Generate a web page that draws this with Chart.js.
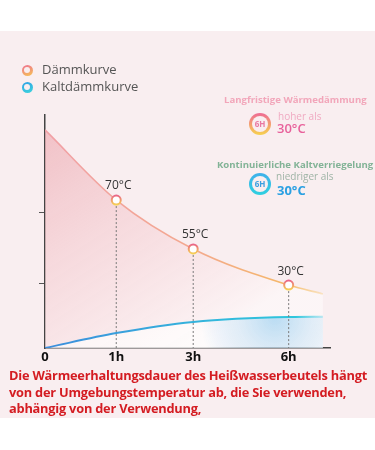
<!DOCTYPE html>
<html><head><meta charset="utf-8">
<script src="https://cdn.jsdelivr.net/npm/chart.js@4.4.1/dist/chart.umd.min.js"></script>
<style>
html,body{margin:0;padding:0;width:375px;height:450px;background:#fff;overflow:hidden;font-family:"Open Sans","Noto Sans",sans-serif;}
#bg{position:absolute;left:0;top:31px;width:375px;height:387px;background:#f9eef0;}
#c{position:absolute;left:0;top:0;}
.t{position:absolute;white-space:nowrap;line-height:1;}
.ring{position:absolute;border-radius:50%;}
.ring .in{position:absolute;border-radius:50%;background:#f9eef0;}
.foot{position:absolute;left:9px;top:367px;color:#d41c22;font-weight:bold;font-size:12.8px;line-height:16.5px;white-space:nowrap;}
</style></head>
<body>
<div id="bg"></div>
<canvas id="c" width="375" height="450"></canvas>

<div class="ring" style="left:21.5px;top:64.5px;width:11px;height:11px;background:linear-gradient(160deg,#ee6f93,#f6c453);"><div class="in" style="left:2.2px;top:2.2px;width:6.6px;height:6.6px;"></div></div>
<div class="t" style="left:42px;top:63px;font-size:13px;color:#555;">Dämmkurve</div>
<div class="ring" style="left:21.5px;top:81.5px;width:11px;height:11px;background:linear-gradient(160deg,#2d9fe6,#3fd6dc);"><div class="in" style="left:2.2px;top:2.2px;width:6.6px;height:6.6px;"></div></div>
<div class="t" style="left:42px;top:80px;font-size:13px;color:#555;">Kaltdämmkurve</div>

<div class="t" id="a1" style="left:224px;top:95px;font-size:9.6px;font-weight:bold;color:#f2a6ba;">Langfristige Wärmedämmung</div>
<div class="ring" style="left:249px;top:113px;width:22px;height:22px;background:linear-gradient(180deg,#ee6a94,#f7d24e);"><div class="in" style="left:3px;top:3px;width:16px;height:16px;"></div></div>
<div class="t" style="left:249px;top:120px;width:22px;text-align:center;font-size:8px;font-weight:bold;color:#e978a2;">6H</div>
<div class="t" style="left:278px;top:111px;font-size:10px;color:#f0aac2;">hoher als</div>
<div class="t" style="left:277px;top:122px;font-size:13px;font-weight:600;color:#e8619b;">30°C</div>

<div class="t" id="a2" style="left:217px;top:160px;font-size:9.6px;font-weight:bold;color:#82b396;">Kontinuierliche Kaltverriegelung</div>
<div class="ring" style="left:249px;top:173px;width:22px;height:22px;background:linear-gradient(180deg,#3fb0ea,#2fd0e0);"><div class="in" style="left:3px;top:3px;width:16px;height:16px;"></div></div>
<div class="t" style="left:249px;top:180px;width:22px;text-align:center;font-size:8px;font-weight:bold;color:#3b9fe0;">6H</div>
<div class="t" style="left:276px;top:171px;font-size:10px;color:#9fb4a6;">niedriger als</div>
<div class="t" style="left:277px;top:184px;font-size:13px;font-weight:bold;color:#2ba0e2;">30°C</div>

<div class="foot" id="foot">
<div class="fl">Die Wärmeerhaltungsdauer des Heißwasserbeutels hängt</div>
<div class="fl">von der Umgebungstemperatur ab, die Sie verwenden,</div>
<div class="fl">abhängig von der Verwendung,</div>
</div>

<script>
// ---- data ----
const timeLabels = ['0', '1h', '3h', '6h'];
const timeSlots = [0, 1, 2.08, 3.42];          // axis slot of each time label
const curveSlots = [0, 1, 2.08, 3.42, 3.9];    // curve sample slots
const heatCurve = [93.6, 63.5, 42.5, 27.0, 23.2];   // Dämmkurve
const coldCurve = [0, 6.4, 11.2, 13.3, 13.4];       // Kaltdämmkurve
const pointLabels = ['', '70°C', '55°C', '30°C', ''];
const yTicks = [27.5, 58];

// fit footer line 1 width
(function(){
  const fl = document.querySelectorAll('.fl');
  const w = fl[0].getBoundingClientRect().width;
  const target = 358;
  const ls = (target - w) / fl[0].textContent.length;
  document.getElementById('foot').style.letterSpacing = ls + 'px';
})();

const markerPlugin = {
  id: 'markers',
  afterDatasetsDraw(chart) {
    const c = chart.ctx;
    const meta = chart.getDatasetMeta(1);
    const bottom = chart.chartArea.bottom;
    meta.data.forEach((el, i) => {
      const lab = pointLabels[i];
      if (!lab) return;
      c.save();
      c.strokeStyle = '#7a7a7a'; c.lineWidth = 1; c.setLineDash([2, 2]);
      c.beginPath(); c.moveTo(el.x, el.y + 6); c.lineTo(el.x, bottom); c.stroke();
      c.setLineDash([]);
      const g = c.createLinearGradient(el.x, el.y - 5, el.x, el.y + 5);
      g.addColorStop(0, '#e9628a'); g.addColorStop(1, '#f6d452');
      c.fillStyle = '#fff';
      c.beginPath(); c.arc(el.x, el.y, 4.5, 0, Math.PI * 2); c.fill();
      c.strokeStyle = g; c.lineWidth = 2; c.stroke();
      c.fillStyle = '#333'; c.font = '12px "Open Sans"';
      c.textAlign = 'center'; c.textBaseline = 'middle';
      c.fillText(lab, el.x + 2, el.y - 14);
      c.restore();
    });
  }
};

function pinkLine(ctx) {
  const a = ctx.chart.chartArea; if (!a) return '#f0a0a0';
  const g = ctx.chart.ctx.createLinearGradient(a.left, 0, a.right, 0);
  g.addColorStop(0, '#f1a0a6'); g.addColorStop(0.5, '#f3a890');
  g.addColorStop(0.85, '#f5b868'); g.addColorStop(1, 'rgba(248,210,130,0.3)');
  return g;
}
function pinkFill(ctx) {
  const a = ctx.chart.chartArea; if (!a) return 'rgba(240,170,175,0.4)';
  const g = ctx.chart.ctx.createLinearGradient(a.left, a.top, a.left + 150, a.bottom);
  g.addColorStop(0, 'rgba(236,160,168,0.62)');
  g.addColorStop(0.45, 'rgba(242,190,196,0.45)');
  g.addColorStop(1, 'rgba(255,252,252,0.5)');
  return g;
}
function blueLine(ctx) {
  const a = ctx.chart.chartArea; if (!a) return '#3a90e0';
  const g = ctx.chart.ctx.createLinearGradient(a.left, 0, a.right, 0);
  g.addColorStop(0, '#3d8ddc'); g.addColorStop(0.6, '#33b8dc');
  g.addColorStop(0.88, '#2fc6dc'); g.addColorStop(1, 'rgba(80,210,230,0.2)');
  return g;
}
function blueFill(ctx) {
  const a = ctx.chart.chartArea; if (!a) return 'rgba(120,200,240,0.3)';
  const g = ctx.chart.ctx.createRadialGradient(a.left + 230, a.bottom - 30, 0, a.left + 230, a.bottom - 30, 75);
  g.addColorStop(0, 'rgba(120,195,240,0.5)');
  g.addColorStop(0.5, 'rgba(190,225,248,0.45)');
  g.addColorStop(1, 'rgba(255,255,255,0.6)');
  return g;
}

new Chart(document.getElementById('c'), {
  type: 'line',
  data: {
    datasets: [
      { label: 'Kaltdämmkurve', data: curveSlots.map((x, i) => ({ x, y: coldCurve[i] })),
        borderColor: blueLine, borderWidth: 2, fill: 'origin', backgroundColor: blueFill,
        pointRadius: 0, cubicInterpolationMode: 'monotone' },
      { label: 'Dämmkurve', data: curveSlots.map((x, i) => ({ x, y: heatCurve[i] })),
        borderColor: pinkLine, borderWidth: 1.6, fill: 'origin', backgroundColor: pinkFill,
        pointRadius: 0, cubicInterpolationMode: 'monotone' }
    ]
  },
  options: {
    responsive: false, animation: false, devicePixelRatio: 1,
    layout: { padding: { left: 35, right: 45, top: 115, bottom: 82 } },
    plugins: { legend: { display: false }, tooltip: { enabled: false } },
    scales: {
      x: {
        type: 'linear', min: 0, max: 4,
        afterBuildTicks: s => { s.ticks = timeSlots.map(v => ({ value: v })); },
        ticks: { callback: (v, i) => timeLabels[i], font: { family: 'Open Sans', weight: 'bold', size: 13 },
                 color: '#111', padding: 1, maxRotation: 0, autoSkip: false },
        grid: { display: false, drawTicks: false },
        border: { display: true, color: '#444', width: 1.5 },
        afterFit: s => { s.height = 20; }
      },
      y: {
        min: 0, max: 100,
        afterBuildTicks: s => { s.ticks = yTicks.map(v => ({ value: v })); },
        ticks: { display: false },
        grid: { drawOnChartArea: false, drawTicks: true, tickLength: 6, color: '#555' },
        border: { display: true, color: '#444', width: 1.5 },
        afterFit: s => { s.width = 10; }
      }
    }
  },
  plugins: [markerPlugin]
});
</script>
</body></html>
